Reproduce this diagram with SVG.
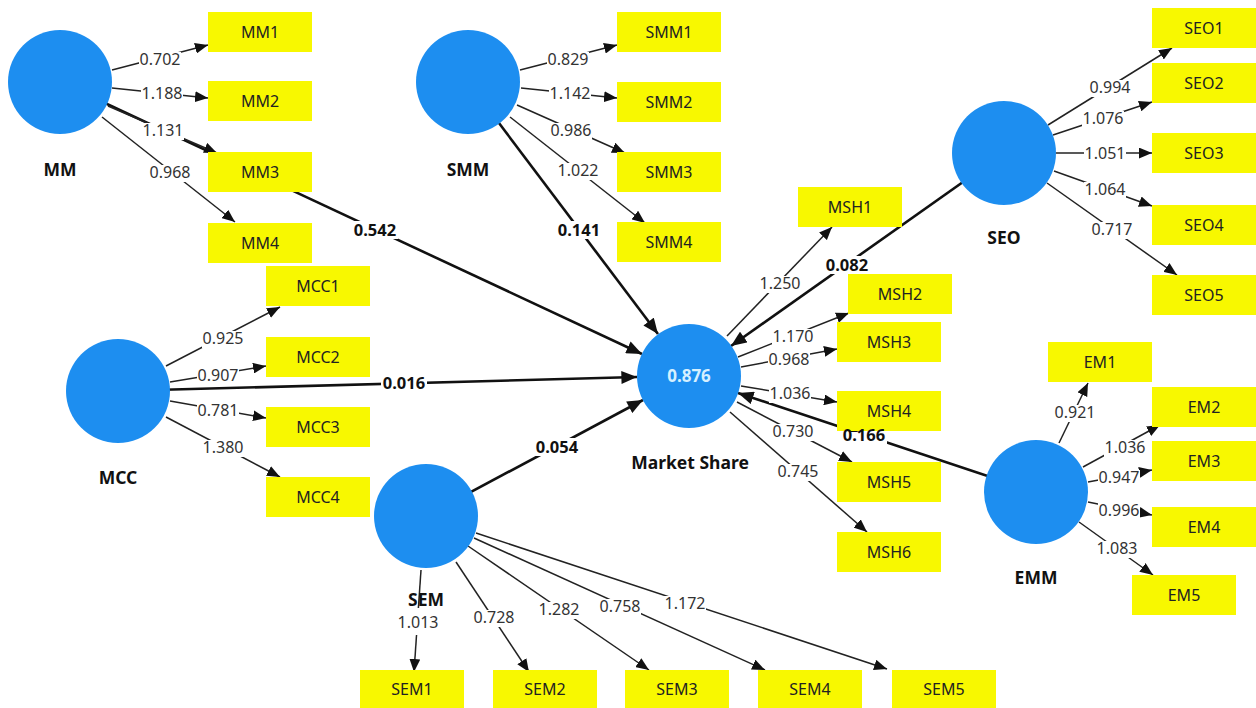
<svg xmlns="http://www.w3.org/2000/svg" width="1256" height="708" viewBox="0 0 1256 708">
<style>
.bg{fill:#ffffff}
.ld{stroke:#222;stroke-width:1.5;fill:none;marker-end:url(#ah)}
.pt{stroke:#111;stroke-width:2.6;fill:none;marker-end:url(#ahb)}
.lb{fill:#ffffff}
.lv{font-family:"Noto Sans","Open Sans",sans-serif;font-size:16px;fill:#333;text-anchor:middle}
.pv{font-family:"Noto Sans","Open Sans",sans-serif;font-size:16.5px;font-weight:bold;fill:#111;text-anchor:middle}
.box{fill:#f8f800}
.bt{font-family:"Noto Sans","Open Sans",sans-serif;font-size:16px;fill:#222;text-anchor:middle}
.lat{fill:#1d8ef0}
.nl{font-family:"Noto Sans","Open Sans",sans-serif;font-size:17.5px;font-weight:bold;fill:#111;text-anchor:middle}
.r2{font-family:"Noto Sans","Open Sans",sans-serif;font-size:17px;font-weight:bold;fill:#d6f0ff;text-anchor:middle}
</style>
<defs>
<marker id="ah" viewBox="0 0 12 10" refX="12" refY="5" markerWidth="13" markerHeight="11" markerUnits="userSpaceOnUse" orient="auto"><path d="M0,0 L12,5 L0,10 z" fill="#111"/></marker>
<marker id="ahb" viewBox="0 0 12 10" refX="12" refY="5" markerWidth="16" markerHeight="13" markerUnits="userSpaceOnUse" orient="auto"><path d="M0,0 L12,5 L0,10 z" fill="#111"/></marker>
</defs>
<rect class="bg" x="0" y="0" width="1256" height="708"/>
<g id="connectors">
<line class="pt" x1="60" y1="82" x2="642" y2="354"/>
<line class="pt" x1="468" y1="82" x2="658" y2="334"/>
<line class="pt" x1="1004" y1="153" x2="731" y2="346"/>
<line class="pt" x1="118" y1="391" x2="637" y2="377"/>
<line class="pt" x1="426" y1="516" x2="643" y2="400"/>
<line class="pt" x1="1036" y1="492" x2="738" y2="393"/>
<line class="ld" x1="112" y1="70" x2="208" y2="45"/>
<line class="ld" x1="112" y1="88" x2="208" y2="98"/>
<line class="ld" x1="108" y1="106" x2="217" y2="153"/>
<line class="ld" x1="102" y1="117" x2="235" y2="222"/>
<line class="ld" x1="520" y1="70" x2="617" y2="45"/>
<line class="ld" x1="521" y1="88" x2="617" y2="98"/>
<line class="ld" x1="517" y1="105" x2="625" y2="153"/>
<line class="ld" x1="510" y1="117" x2="645" y2="223"/>
<line class="ld" x1="1048" y1="125" x2="1172" y2="48"/>
<line class="ld" x1="1053" y1="135" x2="1152" y2="102"/>
<line class="ld" x1="1056" y1="153" x2="1152" y2="153"/>
<line class="ld" x1="1054" y1="171" x2="1152" y2="206"/>
<line class="ld" x1="1047" y1="183" x2="1177" y2="275"/>
<line class="ld" x1="727" y1="336" x2="832" y2="227"/>
<line class="ld" x1="738" y1="357" x2="849" y2="313"/>
<line class="ld" x1="741" y1="367" x2="837" y2="349"/>
<line class="ld" x1="741" y1="386" x2="837" y2="402"/>
<line class="ld" x1="737" y1="402" x2="852" y2="462"/>
<line class="ld" x1="730" y1="412" x2="867" y2="532"/>
<line class="ld" x1="1059" y1="443" x2="1088" y2="383"/>
<line class="ld" x1="1083" y1="467" x2="1160" y2="425"/>
<line class="ld" x1="1088" y1="482" x2="1152" y2="470"/>
<line class="ld" x1="1088" y1="502" x2="1152" y2="515"/>
<line class="ld" x1="1079" y1="522" x2="1153" y2="575"/>
<line class="ld" x1="166" y1="366" x2="280" y2="307"/>
<line class="ld" x1="170" y1="382" x2="266" y2="366"/>
<line class="ld" x1="170" y1="401" x2="266" y2="418"/>
<line class="ld" x1="166" y1="417" x2="280" y2="477"/>
<line class="ld" x1="421" y1="570" x2="414" y2="672"/>
<line class="ld" x1="456" y1="562" x2="529" y2="672"/>
<line class="ld" x1="468" y1="546" x2="649" y2="670"/>
<line class="ld" x1="474" y1="538" x2="765" y2="670"/>
<line class="ld" x1="476" y1="533" x2="887" y2="669"/>
</g>
<g id="node-MM"><circle class="lat" cx="60" cy="82" r="52"/><text class="nl" x="60" y="176">MM</text></g>
<g id="node-SMM"><circle class="lat" cx="468" cy="82" r="52"/><text class="nl" x="468" y="176">SMM</text></g>
<g id="node-SEO"><circle class="lat" cx="1004" cy="153" r="52"/><text class="nl" x="1004" y="244">SEO</text></g>
<g id="node-MCC"><circle class="lat" cx="118" cy="391" r="52"/><text class="nl" x="118" y="484">MCC</text></g>
<g id="node-MarketShare"><circle class="lat" cx="689" cy="376" r="52"/><text class="r2" x="689" y="382">0.876</text><text class="nl" x="690" y="469">Market Share</text></g>
<g id="node-EMM"><circle class="lat" cx="1036" cy="492" r="52"/><text class="nl" x="1036" y="584">EMM</text></g>
<g id="node-SEM"><circle class="lat" cx="426" cy="516" r="52"/><text class="nl" x="426" y="606">SEM</text></g>
<g id="node-MM1"><rect class="box" x="208" y="12" width="104" height="40"/><text class="bt" x="260" y="38">MM1</text></g>
<g id="node-MM2"><rect class="box" x="208" y="81" width="104" height="40"/><text class="bt" x="260" y="107">MM2</text></g>
<g id="node-MM3"><rect class="box" x="208" y="152" width="104" height="40"/><text class="bt" x="260" y="178">MM3</text></g>
<g id="node-MM4"><rect class="box" x="208" y="223" width="104" height="40"/><text class="bt" x="260" y="249">MM4</text></g>
<g id="node-SMM1"><rect class="box" x="617" y="12" width="104" height="40"/><text class="bt" x="669" y="38">SMM1</text></g>
<g id="node-SMM2"><rect class="box" x="617" y="82" width="104" height="40"/><text class="bt" x="669" y="108">SMM2</text></g>
<g id="node-SMM3"><rect class="box" x="617" y="152" width="104" height="40"/><text class="bt" x="669" y="178">SMM3</text></g>
<g id="node-SMM4"><rect class="box" x="617" y="222" width="104" height="40"/><text class="bt" x="669" y="248">SMM4</text></g>
<g id="node-SEO1"><rect class="box" x="1152" y="8" width="104" height="40"/><text class="bt" x="1204" y="34">SEO1</text></g>
<g id="node-SEO2"><rect class="box" x="1152" y="63" width="104" height="40"/><text class="bt" x="1204" y="89">SEO2</text></g>
<g id="node-SEO3"><rect class="box" x="1152" y="133" width="104" height="40"/><text class="bt" x="1204" y="159">SEO3</text></g>
<g id="node-SEO4"><rect class="box" x="1152" y="205" width="104" height="40"/><text class="bt" x="1204" y="231">SEO4</text></g>
<g id="node-SEO5"><rect class="box" x="1152" y="275" width="104" height="40"/><text class="bt" x="1204" y="301">SEO5</text></g>
<g id="node-MSH1"><rect class="box" x="798" y="187" width="104" height="40"/><text class="bt" x="850" y="213">MSH1</text></g>
<g id="node-MSH2"><rect class="box" x="848" y="274" width="104" height="40"/><text class="bt" x="900" y="300">MSH2</text></g>
<g id="node-MSH3"><rect class="box" x="837" y="322" width="104" height="40"/><text class="bt" x="889" y="348">MSH3</text></g>
<g id="node-MSH4"><rect class="box" x="837" y="391" width="104" height="40"/><text class="bt" x="889" y="417">MSH4</text></g>
<g id="node-MSH5"><rect class="box" x="837" y="462" width="104" height="40"/><text class="bt" x="889" y="488">MSH5</text></g>
<g id="node-MSH6"><rect class="box" x="837" y="532" width="104" height="40"/><text class="bt" x="889" y="558">MSH6</text></g>
<g id="node-MCC1"><rect class="box" x="266" y="266" width="104" height="40"/><text class="bt" x="318" y="292">MCC1</text></g>
<g id="node-MCC2"><rect class="box" x="266" y="337" width="104" height="40"/><text class="bt" x="318" y="363">MCC2</text></g>
<g id="node-MCC3"><rect class="box" x="266" y="407" width="104" height="40"/><text class="bt" x="318" y="433">MCC3</text></g>
<g id="node-MCC4"><rect class="box" x="266" y="477" width="104" height="40"/><text class="bt" x="318" y="503">MCC4</text></g>
<g id="node-EM1"><rect class="box" x="1048" y="342" width="104" height="40"/><text class="bt" x="1100" y="368">EM1</text></g>
<g id="node-EM2"><rect class="box" x="1152" y="387" width="104" height="40"/><text class="bt" x="1204" y="413">EM2</text></g>
<g id="node-EM3"><rect class="box" x="1152" y="441" width="104" height="40"/><text class="bt" x="1204" y="467">EM3</text></g>
<g id="node-EM4"><rect class="box" x="1152" y="507" width="104" height="40"/><text class="bt" x="1204" y="533">EM4</text></g>
<g id="node-EM5"><rect class="box" x="1132" y="575" width="104" height="40"/><text class="bt" x="1184" y="601">EM5</text></g>
<g id="node-SEM1"><rect class="box" x="360" y="670" width="104" height="40"/><text class="bt" x="412" y="695">SEM1</text></g>
<g id="node-SEM2"><rect class="box" x="493" y="670" width="104" height="40"/><text class="bt" x="545" y="695">SEM2</text></g>
<g id="node-SEM3"><rect class="box" x="625" y="670" width="104" height="40"/><text class="bt" x="677" y="695">SEM3</text></g>
<g id="node-SEM4"><rect class="box" x="758" y="670" width="104" height="40"/><text class="bt" x="810" y="695">SEM4</text></g>
<g id="node-SEM5"><rect class="box" x="892" y="670" width="104" height="40"/><text class="bt" x="944" y="695">SEM5</text></g>
<g id="connector-labels">
<rect class="lb" x="352" y="221" width="46" height="18"/><text class="pv" x="375" y="236">0.542</text>
<rect class="lb" x="556" y="221" width="46" height="18"/><text class="pv" x="579" y="236">0.141</text>
<rect class="lb" x="824" y="256" width="46" height="18"/><text class="pv" x="847" y="271">0.082</text>
<rect class="lb" x="381" y="374" width="46" height="18"/><text class="pv" x="404" y="389">0.016</text>
<rect class="lb" x="534" y="438" width="46" height="18"/><text class="pv" x="557" y="453">0.054</text>
<rect class="lb" x="841" y="432" width="46" height="14"/><text class="pv" x="864" y="441">0.166</text>
<rect class="lb" x="139" y="52" width="42" height="17"/><text class="lv" x="160" y="65">0.702</text>
<rect class="lb" x="141" y="86" width="42" height="17"/><text class="lv" x="162" y="99">1.188</text>
<rect class="lb" x="142" y="123" width="42" height="17"/><text class="lv" x="163" y="136">1.131</text>
<rect class="lb" x="149" y="165" width="42" height="17"/><text class="lv" x="170" y="178">0.968</text>
<rect class="lb" x="547" y="52" width="42" height="17"/><text class="lv" x="568" y="65">0.829</text>
<rect class="lb" x="549" y="86" width="42" height="17"/><text class="lv" x="570" y="99">1.142</text>
<rect class="lb" x="550" y="123" width="42" height="17"/><text class="lv" x="571" y="136">0.986</text>
<rect class="lb" x="557" y="163" width="42" height="17"/><text class="lv" x="578" y="176">1.022</text>
<rect class="lb" x="1089" y="80" width="42" height="17"/><text class="lv" x="1110" y="93">0.994</text>
<rect class="lb" x="1082" y="111" width="42" height="17"/><text class="lv" x="1103" y="124">1.076</text>
<rect class="lb" x="1084" y="146" width="42" height="17"/><text class="lv" x="1105" y="159">1.051</text>
<rect class="lb" x="1084" y="182" width="42" height="17"/><text class="lv" x="1105" y="195">1.064</text>
<rect class="lb" x="1091" y="222" width="42" height="17"/><text class="lv" x="1112" y="235">0.717</text>
<rect class="lb" x="759" y="276" width="42" height="17"/><text class="lv" x="780" y="289">1.250</text>
<rect class="lb" x="772" y="329" width="42" height="17"/><text class="lv" x="793" y="342">1.170</text>
<rect class="lb" x="768" y="352" width="42" height="16"/><text class="lv" x="789" y="365">0.968</text>
<rect class="lb" x="769" y="386" width="42" height="17"/><text class="lv" x="790" y="399">1.036</text>
<rect class="lb" x="772" y="424" width="42" height="17"/><text class="lv" x="793" y="437">0.730</text>
<rect class="lb" x="777" y="464" width="42" height="17"/><text class="lv" x="798" y="477">0.745</text>
<rect class="lb" x="1054" y="405" width="42" height="17"/><text class="lv" x="1075" y="418">0.921</text>
<rect class="lb" x="1104" y="440" width="42" height="17"/><text class="lv" x="1125" y="453">1.036</text>
<rect class="lb" x="1098" y="470" width="42" height="17"/><text class="lv" x="1119" y="483">0.947</text>
<rect class="lb" x="1098" y="503" width="42" height="17"/><text class="lv" x="1119" y="516">0.996</text>
<rect class="lb" x="1096" y="541" width="42" height="17"/><text class="lv" x="1117" y="554">1.083</text>
<rect class="lb" x="202" y="331" width="42" height="17"/><text class="lv" x="223" y="344">0.925</text>
<rect class="lb" x="197" y="368" width="42" height="16"/><text class="lv" x="218" y="381">0.907</text>
<rect class="lb" x="197" y="403" width="42" height="17"/><text class="lv" x="218" y="416">0.781</text>
<rect class="lb" x="202" y="440" width="42" height="17"/><text class="lv" x="223" y="453">1.380</text>
<rect class="lb" x="397" y="608" width="42" height="27"/><text class="lv" x="418" y="628">1.013</text>
<rect class="lb" x="473" y="610" width="42" height="17"/><text class="lv" x="494" y="623">0.728</text>
<rect class="lb" x="538" y="602" width="42" height="17"/><text class="lv" x="559" y="615">1.282</text>
<rect class="lb" x="599" y="599" width="42" height="17"/><text class="lv" x="620" y="612">0.758</text>
<rect class="lb" x="664" y="596" width="42" height="17"/><text class="lv" x="685" y="609">1.172</text>
</g>
</svg>
